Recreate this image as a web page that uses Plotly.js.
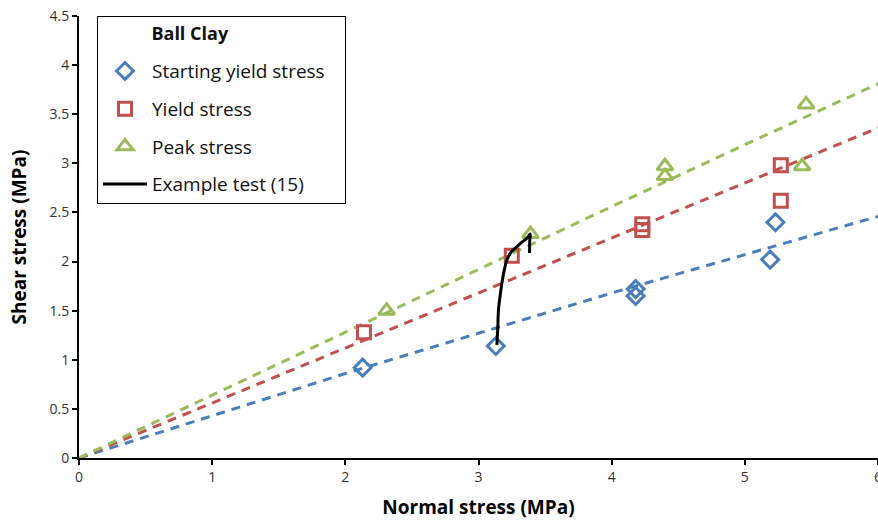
<!DOCTYPE html>
<html><head><meta charset="utf-8">
<script src="https://cdn.plot.ly/plotly-3.0.1.min.js"></script>
<style>body{margin:0;padding:0;background:#fff}#chart{width:878px;height:526px}</style>
</head><body><div id="chart"></div>
<script>
// Starting yield stress
const syX = [2.13, 3.13, 4.18, 4.18, 5.19, 5.23];
const syY = [0.92, 1.14, 1.72, 1.65, 2.02, 2.40];
// Yield stress
const yX = [2.14, 3.25, 4.23, 4.23, 5.27, 5.27];
const yY = [1.28, 2.06, 2.38, 2.32, 2.98, 2.62];
// Peak stress
const pX = [2.31, 3.39, 4.40, 4.40, 5.43, 5.46];
const pY = [1.50, 2.28, 2.97, 2.87, 2.97, 3.60];
// Trendlines
const trendX = [0, 1, 2, 3, 4, 5, 6];
const trendSY = [0, 0.43, 0.86, 1.27, 1.68, 2.07, 2.46];
const trendY = [0, 0.56, 1.12, 1.68, 2.24, 2.80, 3.36];
const trendP = [0, 0.64, 1.28, 1.92, 2.56, 3.19, 3.81];
// Example test (15)
const exX = [3.138, 3.144, 3.150, 3.163, 3.176, 3.193, 3.213, 3.246, 3.289, 3.328, 3.364, 3.388, 3.385, 3.383];
const exY = [1.151, 1.30, 1.507, 1.66, 1.782, 1.91, 2.016, 2.098, 2.152, 2.20, 2.237, 2.281, 2.22, 2.088];

const cBlue = '#4A7EBB', cRed = '#C0504D', cGreen = '#9BBB59';
const dash = '9px,7px';
const font = 'Open Sans, Noto Sans, sans-serif';
const pad = '&nbsp;&nbsp;&nbsp;&nbsp;&nbsp;&nbsp;&nbsp;&nbsp;&nbsp;&nbsp;&nbsp;';

const traces = [
  {x: trendX, y: trendSY, mode: 'lines', line: {color: cBlue, width: 3, dash: dash}, showlegend: false, hoverinfo: 'skip'},
  {x: trendX, y: trendY, mode: 'lines', line: {color: cRed, width: 3, dash: dash}, showlegend: false, hoverinfo: 'skip'},
  {x: trendX, y: trendP, mode: 'lines', line: {color: cGreen, width: 3, dash: dash}, showlegend: false, hoverinfo: 'skip'},
  {x: syX, y: syY, mode: 'markers', name: 'Starting yield stress&nbsp;&nbsp;&nbsp;', legendgroup: 'a',
   marker: {symbol: 'diamond-open', size: 13, color: cBlue, line: {width: 3, color: cBlue}}},
  {x: yX, y: yY, mode: 'markers', name: 'Yield stress', legendgroup: 'b',
   marker: {symbol: 'square-open', size: 13, color: cRed, line: {width: 3, color: cRed}}},
  {x: pX, y: pY, mode: 'markers', name: 'Peak stress', legendgroup: 'c',
   marker: {symbol: 'triangle-up-open', size: 14, color: cGreen, line: {width: 3, color: cGreen}}},
  {x: exX, y: exY, mode: 'lines', name: 'Example test (15)', legendgroup: 'd', line: {color: '#000', width: 3, shape: 'spline'}}
];

const layout = {
  width: 878, height: 526,
  margin: {l: 79, r: 0, t: 16, b: 68},
  paper_bgcolor: '#fff', plot_bgcolor: '#fff',
  font: {family: font, size: 14, color: '#333'},
  showlegend: true,
  legend: {
    x: 0.0225, y: 1, xanchor: 'left', yanchor: 'top',
    bordercolor: '#000', borderwidth: 1, bgcolor: '#fff',
    font: {family: font, size: 19, color: '#111'},
    title: {text: '&nbsp;<br><span style="font-size:18px">' + pad + '<b>Ball Clay</b></span><br>&nbsp;', font: {family: font, size: 9, color: '#111'}},
    tracegroupgap: 10, itemwidth: 44
  },
  xaxis: {
    range: [0, 6], dtick: 1, showgrid: false, zeroline: false,
    showline: true, linecolor: '#000', linewidth: 2,
    ticks: 'outside', ticklen: 5, tickwidth: 2, tickcolor: '#000',
    ticklabeloverflow: 'allow',
    tickfont: {family: font, size: 14, color: '#333'},
    title: {text: '<b>Normal stress (MPa)</b>', font: {family: font, size: 19, color: '#000'}, standoff: 16}
  },
  yaxis: {
    range: [0, 4.5], dtick: 0.5, showgrid: false, zeroline: false,
    showline: true, linecolor: '#000', linewidth: 2,
    ticks: 'outside', ticklen: 5, tickwidth: 2, tickcolor: '#000',
    tickfont: {family: font, size: 14, color: '#333'},
    title: {text: '<b>Shear stress (MPa)</b>', font: {family: font, size: 19, color: '#000'}, standoff: 18}
  }
};

Plotly.newPlot('chart', traces, layout, {displayModeBar: false, staticPlot: true});
</script>
</body></html>
